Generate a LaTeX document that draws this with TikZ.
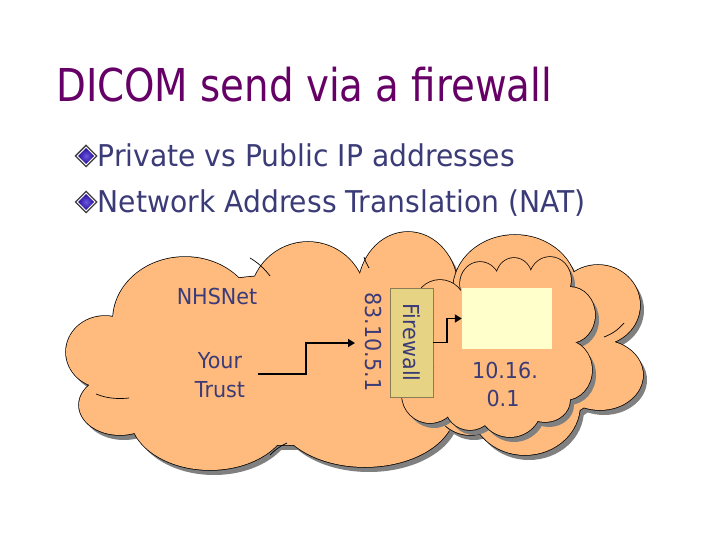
\documentclass[tikz,border=0pt]{standalone}
\usepackage{fontspec}
\setmainfont{DejaVu Sans}
\newfontfamily\titlefont[FakeStretch=0.855]{DejaVu Sans}
\newfontfamily\bulletfont[FakeStretch=0.94]{DejaVu Sans}
\newfontfamily\diagfont[FakeStretch=0.94]{DejaVu Sans}
\usetikzlibrary{shapes.geometric,arrows.meta}
\definecolor{titlec}{HTML}{660066}
\definecolor{textc}{HTML}{3B3B78}
\definecolor{cloudc}{HTML}{FFBB7D}
\definecolor{shadowc}{HTML}{808080}
\definecolor{fwc}{HTML}{E6D383}
\definecolor{fwborder}{HTML}{8A7D55}
\definecolor{hostc}{HTML}{FFFFCC}
\definecolor{bulletc}{HTML}{2A0C9A}
\definecolor{bulletl}{HTML}{6A5AE0}
\newcommand\bulletdia[2]{%
  \fill[black!75] (#1-11.5,#2) -- (#1,#2-11.5) -- (#1+11.5,#2) -- (#1,#2+11.5) -- cycle;
  \fill[white] (#1-9.5,#2) -- (#1,#2-9.5) -- (#1+9.5,#2) -- (#1,#2+9.5) -- cycle;
  \shade[inner color=bulletl, outer color=bulletc] (#1-8,#2) -- (#1,#2-8) -- (#1+8,#2) -- (#1,#2+8) -- cycle;}
% a cloud as a union of ellipses: shadow, outline, fill
\newcommand\puffcloud[1]{%
  \foreach \cx/\cy/\rx/\ry in {#1} \fill[shadowc] (\cx+4,\cy+5) ellipse [x radius=\rx pt, y radius=\ry pt];
  \foreach \cx/\cy/\rx/\ry in {#1} \draw[line width=1.5pt] (\cx,\cy) ellipse [x radius=\rx pt, y radius=\ry pt];
  \foreach \cx/\cy/\rx/\ry in {#1} \fill[cloudc] (\cx,\cy) ellipse [x radius=\rx pt, y radius=\ry pt];}
\begin{document}
\begin{tikzpicture}[x=1pt,y=-1pt,
  lbl/.style={text=textc, font=\diagfont\fontsize{22}{26}\selectfont, inner sep=0pt},
  bullettext/.style={anchor=base west, text=textc, font=\bulletfont\fontsize{30}{36}\selectfont, inner sep=0pt},
  arr/.style={line width=1.8pt, -{Triangle[length=7pt,width=8pt]}},
  fwbox/.style={draw=fwborder, fill=fwc, line width=0.6pt, minimum width=43pt, minimum height=109pt, inner sep=0pt, text=textc, font=\diagfont\fontsize{22}{26}\selectfont},
  hostbox/.style={fill=hostc, minimum width=90pt, minimum height=61pt, inner sep=0pt},
  innerline/.style={line width=0.7pt}]
\useasboundingbox (0,0) rectangle (720,540);
\fill[white] (0,0) rectangle (720,540);
% title and bullets
\node[anchor=base west, text=titlec, font=\titlefont\fontsize{45.3}{50}\selectfont, inner sep=0pt] (title) at (56,102) {DICOM send via a firewall};
\bulletdia{86}{156}
\bulletdia{86}{202}
\node[bullettext] (b1) at (97.5,167) {Private vs Public IP addresses};
\node[bullettext] (b2) at (97.5,213) {Network Address Translation (NAT)};
% NHSNet cloud
\puffcloud{105/352/39/36, 120/405/41/30, 210/415/80/55, 365/410/90/57, 185/320/72/63,
  308/300/58/58, 408/290/50/58, 470/370/60/60, 290/360/190/85}
\draw[innerline] (96,394) .. controls (108,399) and (120,399) .. (129,398);
\draw[innerline] (250,258) .. controls (257,262) and (264,268) .. (270,276);
\draw[innerline] (364,257) .. controls (365,261) and (367,264) .. (369,268);
\draw[innerline] (270,455) .. controls (275,450) and (280,446) .. (287,443);
% right-hand cloud
\puffcloud{515/290/62/55, 598/305/42/40, 600/375/43/35, 525/405/55/50, 470/390/40/45, 545/345/70/75}
\draw[innerline] (604,337) .. controls (612,334) and (618,330) .. (624,323);
% inner cloud
\puffcloud{480/284/20/22, 514/278/18/20, 550/280/21/23, 570/315/25/28, 565/370/27/30,
  510/405/32/32, 545/400/25/22, 470/405/25/25, 440/305/25/25, 430/395/28/28, 500/345/70/65}
% boxes
\node[fwbox] (fw) at (411.5,342.5) {\rotatebox{-90}{Firewall}};
\node[hostbox] (host) at (507,318.5) {};
% labels
\node[lbl, anchor=base] (nhs) at (217,304) {NHSNet};
\node[lbl, anchor=base] (yt1) at (220,368) {Your};
\node[lbl, anchor=base] (yt2) at (220,397) {Trust};
\node[lbl, rotate=-90] (ip) at (374,342) {83.10.5.1};
\node[lbl, anchor=base] (lan1) at (505,378) {10.16.};
\node[lbl, anchor=base] (lan2) at (503,406) {0.1};
% arrows
\coordinate (a1s) at (258,374);
\coordinate (a1m) at (306,343);
\coordinate (a1e) at (355,343);
\draw[arr] (a1s) -| (a1m) -- (a1e);
\coordinate (a2m) at (447,318.5);
\draw[arr] (fw.east) -| (a2m) -- (host.west);
\end{tikzpicture}
\end{document}
